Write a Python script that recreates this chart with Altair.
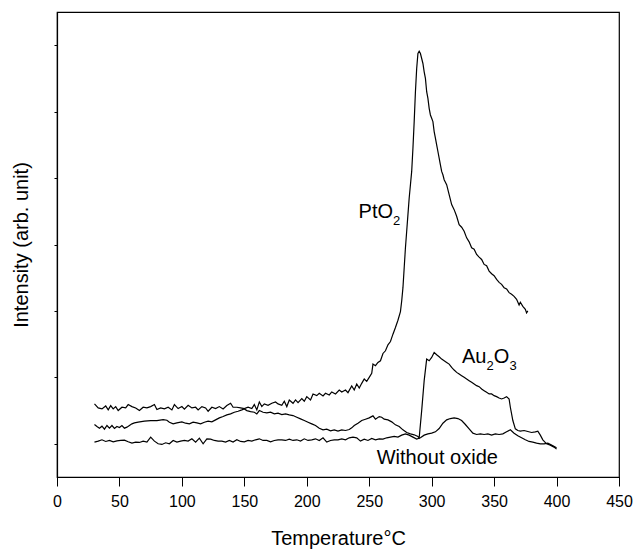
import altair as alt
import pandas as pd

FONT = "Liberation Sans"

# ---- PtO2 series ----
pto2_t = [30,33,36,39,41,43,45,47,49,52,
          55,57,60,63,66,69,72,75,78,80,
          83,86,89,92,94,97,100,102,105,108,
          111,113,116,119,121,124,127,130,133,136,
          139,141,144,147,150,153,156,158,160,162,
          164,166,169,172,175,177,180,182,184,186,
          189,191,193,196,198,200,203,205,208,210,
          213,215,218,220,223,226,228,231,233,236,
          238,240,242,244,246,248,250,252,253,255,
          257,259,261,263,265,267,269,271,273,275,
          276,277,278,279,280,281,282,283,284,285,
          286,287,288,289,290,291,292,293,294,295,
          296,297,298,299,300,301,302,303,304,305,
          306,307,308,309,310,312,314,316,318,320,
          322,324,326,328,330,332,334,336,338,340,
          342,344,346,348,350,352,354,356,358,360,
          362,364,366,368,370,371,373,375,376,377]
pto2_i = [2.20,2.08,2.05,2.14,2.02,2.15,2.05,2.12,2.00,2.10,
          2.08,2.18,2.12,2.08,2.00,2.10,2.08,2.12,2.18,2.03,
          2.08,2.05,2.10,2.02,2.18,2.06,2.12,2.04,2.16,2.08,
          2.10,2.02,2.12,2.08,1.98,2.10,2.06,2.12,2.05,2.15,
          2.22,2.10,2.10,2.08,2.06,2.10,2.06,2.18,2.02,2.26,
          2.12,2.20,2.16,2.22,2.26,2.20,2.16,2.28,2.12,2.32,
          2.22,2.32,2.24,2.36,2.28,2.42,2.32,2.50,2.45,2.52,
          2.44,2.52,2.47,2.56,2.50,2.62,2.56,2.62,2.54,2.74,
          2.62,2.80,2.68,2.82,2.95,2.88,3.00,3.12,3.40,3.35,
          3.45,3.50,3.72,3.80,3.98,4.08,4.30,4.50,4.72,4.98,
          5.30,5.70,6.30,6.90,7.40,7.90,8.40,8.80,9.20,9.90,
          10.7,11.6,12.3,12.75,12.82,12.75,12.6,12.45,12.2,12.0,
          11.6,11.4,11.1,10.9,10.8,10.7,10.4,10.2,10.0,9.8,
          9.6,9.4,9.2,9.1,8.95,8.8,8.5,8.2,8.05,7.85,
          7.6,7.52,7.4,7.2,7.08,6.9,6.86,6.7,6.62,6.55,
          6.4,6.36,6.2,6.12,6.06,5.95,5.86,5.8,5.7,5.66,
          5.55,5.5,5.44,5.35,5.18,5.26,5.14,5.05,4.94,5.0]

# ---- Au2O3 series ----
au_t = [30,32,34,36,38,40,42,44,46,48,
        50,52,54,56,58,60,62,65,70,75,
        80,85,88,90,93,96,100,103,106,109,
        112,115,118,121,124,127,130,133,136,139,
        142,145,148,150,152,155,158,160,162,165,
        168,171,174,177,180,183,186,189,192,195,
        198,201,204,207,210,213,216,219,222,225,
        228,231,234,236,238,241,244,247,250,253,
        255,258,260,262,265,268,271,274,277,280,
        283,286,289,290,292,294,296,298,300,302,
        304,306,308,310,312,314,316,318,320,322,
        324,326,328,330,332,334,336,338,340,342,
        344,346,348,350,352,354,356,358,360,362,
        363,365,367,369,371,374,377,380,383,385,
        387,389,392,395,398,400]
au_i = [1.58,1.52,1.47,1.53,1.44,1.55,1.47,1.55,1.46,1.52,
        1.49,1.55,1.47,1.50,1.55,1.60,1.63,1.65,1.68,1.70,
        1.70,1.73,1.71,1.65,1.60,1.63,1.66,1.62,1.60,1.65,
        1.63,1.60,1.65,1.68,1.66,1.72,1.78,1.82,1.87,1.90,
        1.95,1.98,2.02,2.05,2.00,1.97,1.95,1.90,2.00,1.95,
        1.93,1.95,1.90,1.92,1.88,1.90,1.87,1.85,1.80,1.75,
        1.70,1.65,1.60,1.55,1.47,1.42,1.44,1.39,1.42,1.38,
        1.42,1.40,1.43,1.48,1.55,1.62,1.70,1.74,1.78,1.84,
        1.74,1.82,1.80,1.74,1.72,1.66,1.57,1.52,1.42,1.34,
        1.30,1.27,1.22,1.18,2.00,2.90,3.55,3.50,3.60,3.75,
        3.68,3.62,3.55,3.50,3.45,3.40,3.30,3.22,3.15,3.10,
        3.05,3.00,2.95,2.90,2.85,2.80,2.75,2.72,2.65,2.60,
        2.55,2.50,2.50,2.45,2.42,2.38,2.35,2.38,2.42,2.35,
        2.10,1.70,1.45,1.40,1.38,1.40,1.37,1.34,1.36,1.38,
        1.26,1.12,1.00,0.96,0.90,0.84]

# ---- Without oxide series ----
wo_t = [30,33,36,39,42,45,48,51,54,57,
        60,63,66,69,72,75,78,81,84,87,
        90,93,96,99,102,105,108,111,114,117,
        120,123,126,129,132,135,138,141,144,147,
        150,153,156,159,162,165,168,171,174,177,
        180,183,186,189,192,195,198,201,204,207,
        210,213,216,219,222,225,228,231,234,237,
        240,243,246,249,252,255,258,261,264,267,
        270,273,276,279,282,285,288,291,294,297,
        300,303,306,309,312,315,318,321,324,327,
        330,333,336,339,342,345,348,351,354,357,
        360,363,366,369,372,375,378,381,384,387,
        390,393,396,400]
wo_i = [1.05,1.08,1.12,1.07,1.10,1.06,1.09,1.10,1.11,1.06,
        1.02,1.05,1.04,1.08,1.05,1.20,1.08,1.00,0.98,1.03,
        1.00,1.10,1.05,1.08,1.10,1.08,1.15,1.05,1.17,1.00,
        1.15,1.14,1.10,1.08,1.08,1.05,1.10,1.05,1.12,1.07,
        1.06,1.10,1.08,1.12,1.15,1.10,1.10,1.06,1.10,1.12,
        1.12,1.10,1.14,1.10,1.12,1.08,1.15,1.10,1.12,1.15,
        1.10,1.18,1.05,1.10,1.12,1.12,1.15,1.12,1.18,1.20,
        1.18,1.08,1.14,1.10,1.16,1.12,1.15,1.14,1.18,1.20,
        1.22,1.20,1.26,1.30,1.26,1.20,1.14,1.18,1.26,1.30,
        1.32,1.36,1.46,1.62,1.72,1.76,1.78,1.76,1.70,1.58,
        1.45,1.32,1.28,1.30,1.28,1.30,1.26,1.30,1.28,1.30,
        1.36,1.42,1.32,1.24,1.18,1.12,1.07,1.05,1.02,1.00,
        1.00,1.02,0.96,0.88]

# x ticks: labelled every 50, unlabelled minor ticks in between
x_ticks = [0, 25, 50, 75, 100, 125, 150, 175, 200, 225,
           250, 275, 300, 325, 350, 375, 400, 425, 450]
y_ticks = [1, 2, 3, 4, 5, 6, 7, 8, 9, 10, 11, 12, 13]

# annotation anchors (data coordinates)
main_labels = ["PtO", "Au", "O", "Without oxide"]
main_t = [241.5, 324.2, 349.8, 256.0]
main_i = [7.79, 3.42, 3.42, 0.40]
sub_labels = ["2", "2", "3"]
sub_t = [269.0, 344.0, 362.3]
sub_i = [7.79, 3.42, 3.42]

frames = []
for name, t, v in [("PtO2", pto2_t, pto2_i), ("Au2O3", au_t, au_i), ("Without oxide", wo_t, wo_i)]:
    frames.append(pd.DataFrame({"T": t, "I": v, "series": name}))
df = pd.concat(frames, ignore_index=True)

xscale = alt.Scale(domain=[0, 450], nice=False, zero=False)
yscale = alt.Scale(domain=[0, 14], nice=False, zero=False)

x_axis = alt.Axis(
    values=x_ticks,
    labelExpr="datum.value % 50 === 0 ? datum.label : ''",
    tickSize={"condition": {"test": "datum.value % 50 === 0", "value": 9}, "value": 4},
    title="Temperature°C", labelFontSize=16, labelPadding=7,
    titleFontSize=20, titlePadding=19, grid=False, labelFlush=False,
)
y_axis = alt.Axis(values=y_ticks, labels=False, tickSize=3, title="Intensity (arb. unit)",
                  titleFontSize=20, titlePadding=22, grid=False)

lines = alt.Chart(df).mark_line(color="black", strokeWidth=1.2).encode(
    x=alt.X("T:Q", scale=xscale, axis=x_axis),
    y=alt.Y("I:Q", scale=yscale, axis=y_axis),
    detail="series:N",
    order="T:Q",
)

main_df = pd.DataFrame({"label": main_labels, "T": main_t, "I": main_i})
sub_df = pd.DataFrame({"label": sub_labels, "T": sub_t, "I": sub_i})

main_text = alt.Chart(main_df).mark_text(align="left", baseline="alphabetic", fontSize=20,
                                         font=FONT, color="black").encode(
    x=alt.X("T:Q", scale=xscale), y=alt.Y("I:Q", scale=yscale), text="label:N")
sub_text = alt.Chart(sub_df).mark_text(align="left", baseline="alphabetic", fontSize=13,
                                       dy=7, font=FONT, color="black").encode(
    x=alt.X("T:Q", scale=xscale), y=alt.Y("I:Q", scale=yscale), text="label:N")

chart = alt.layer(lines, main_text, sub_text).properties(
    width=562, height=465,
    background="white",
    autosize=alt.AutoSizeParams(type="none"),
    padding={"left": 57, "top": 12, "right": 16, "bottom": 76},
).configure_view(stroke="black", strokeWidth=1.2).configure_axis(
    domainColor="black", tickColor="black", labelColor="black", titleColor="black",
    labelFont=FONT, titleFont=FONT, titleFontWeight="normal", domainWidth=1.2, tickWidth=1,
)

chart.save("out.html", embed_options={"renderer": "svg", "actions": False})
